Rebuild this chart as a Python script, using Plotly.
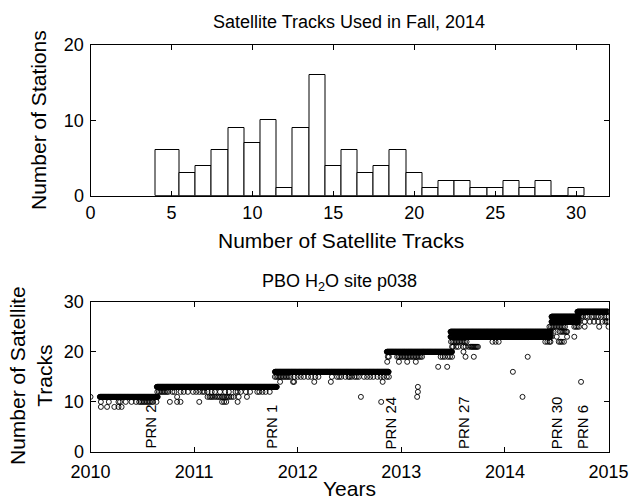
import numpy as np
import plotly.graph_objects as go

# ---- Fall 2014 histogram: stations per number of satellite tracks ----
tracks = list(range(5, 31))
stations = [6, 3, 4, 6, 9, 7, 10, 1, 9, 16, 4, 6, 3, 4, 6, 3, 1, 2, 2, 1, 1, 2, 1, 2, 0, 1]
FIRST_BIN_LEFT = 4.0  # the lowest bin is drawn starting at 4

# ---- PBO H2O site p038: daily number of satellite tracks ----
# steady levels (one value per day between start and end year)
run_start = [2010.09, 2010.64, 2011.78, 2012.86, 2013.475, 2013.475, 2014.45, 2014.45, 2014.70]
run_end = [2010.65, 2011.80, 2012.88, 2013.49, 2014.44, 2014.44, 2014.71, 2014.71, 2015.00]
run_value = [11, 13, 16, 20, 24, 23, 27, 26, 28]

# days that fall off the steady level
extra_value = [9, 10, 11, 12, 13, 14, 15, 16, 17, 18, 19, 20, 21, 22, 23, 24, 25, 26, 27]
extra_years = [
    [2010.10, 2010.16, 2010.23, 2010.27, 2010.30],
    [2010.10, 2010.177, 2010.27, 2010.285, 2010.34, 2010.396, 2010.44, 2010.47, 2010.485,
     2010.50, 2010.515, 2010.53, 2010.545, 2010.56, 2010.575, 2010.59, 2010.605, 2010.637,
     2010.766, 2010.836, 2010.869, 2011.05, 2011.27, 2011.29, 2011.31, 2011.42, 2012.806],
    [2010.00, 2010.836, 2011.13, 2011.15, 2011.165, 2011.18, 2011.20, 2011.22, 2011.235,
     2011.25, 2011.27, 2011.29, 2011.31, 2011.325, 2011.34, 2011.36, 2011.38, 2011.43,
     2011.51, 2012.61, 2013.153, 2014.17],
    [2010.645, 2010.66, 2010.675, 2010.69, 2010.705, 2010.72, 2010.735, 2010.75, 2010.79,
     2010.81, 2010.87, 2010.90, 2010.94, 2010.99, 2011.02, 2011.05, 2011.08, 2011.10,
     2011.13, 2011.17, 2011.20, 2011.25, 2011.30, 2011.335, 2011.40, 2011.42, 2011.45,
     2011.50, 2011.54, 2011.61, 2011.63, 2011.66, 2011.69, 2011.73, 2013.16],
    [2013.16],
    [2011.83, 2011.955, 2011.965, 2012.16, 2012.32, 2012.82, 2014.735],
    [2011.78, 2011.795, 2011.81, 2011.825, 2011.84, 2011.855, 2011.87, 2011.885, 2011.90,
     2011.915, 2011.93, 2011.97, 2012.00, 2012.03, 2012.06, 2012.10, 2012.13, 2012.17,
     2012.20, 2012.33, 2012.38, 2012.40, 2012.42, 2012.46, 2012.49, 2012.50, 2012.52,
     2012.55, 2012.57, 2012.59, 2012.64, 2012.67, 2012.70, 2012.73, 2012.77, 2012.80,
     2012.83, 2012.86, 2012.88],
    [2014.077],
    [2013.356, 2013.443],
    [2012.864, 2012.977, 2013.057, 2013.14],
    [2012.87, 2012.88, 2012.96, 2012.975, 2012.99, 2013.005, 2013.02, 2013.035, 2013.05,
     2013.065, 2013.08, 2013.095, 2013.11, 2013.125, 2013.14, 2013.155, 2013.17, 2013.185,
     2013.20, 2013.38, 2013.40, 2013.42, 2013.45, 2013.47, 2013.49, 2013.62, 2013.70, 2014.22],
    [2013.60],
    [2013.49, 2013.50, 2013.53, 2013.55, 2013.60, 2013.62, 2013.65, 2013.67, 2013.68,
     2013.69, 2013.70, 2013.71, 2013.72, 2013.73, 2013.74],
    [2013.48, 2013.495, 2013.51, 2013.525, 2013.54, 2013.555, 2013.57, 2013.585, 2013.60,
     2013.615, 2013.63, 2013.88, 2013.91, 2013.94, 2014.39, 2014.41, 2014.43, 2014.44,
     2014.52, 2014.535, 2014.55, 2014.57],
    [2014.45, 2014.50, 2014.60, 2014.67],
    [2014.45, 2014.47, 2014.53, 2014.545, 2014.56, 2014.575, 2014.59, 2014.60],
    [2014.43, 2014.445, 2014.46, 2014.475, 2014.49, 2014.505, 2014.52, 2014.535, 2014.55,
     2014.565, 2014.58, 2014.67, 2014.685, 2014.70, 2014.715, 2014.77, 2014.91, 2015.0],
    [2014.72, 2014.77, 2014.82, 2014.86, 2014.90, 2014.94, 2014.97, 2014.985, 2015.0],
    [2014.72, 2014.735, 2014.75, 2014.78, 2014.80, 2014.84, 2014.86, 2014.88, 2014.90,
     2014.93, 2014.96, 2014.98, 2015.0],
]

# satellites added to the tracking list
prn_year = [2010.57, 2011.74, 2012.90, 2013.60, 2014.50, 2014.745]
prn_label = ["PRN 2", "PRN 1", "PRN 24", "PRN 27", "PRN 30", "PRN 6"]

# ---------------------------------------------------------------------
FONT = "Liberation Sans, Arial, Helvetica, sans-serif"
W, H = 630, 500
XL, XR = 90.5 / W, 608.5 / W
TOP_DOM = [1 - 195.7 / H, 1 - 45 / H]
BOT_DOM = [1 - 452 / H, 1 - 301.7 / H]

# bin edges for the histogram bars
left = [t - 0.5 for t in tracks]
left[0] = FIRST_BIN_LEFT
right = [t + 0.5 for t in tracks]
centers = [(a + b) / 2 for a, b in zip(left, right)]
widths = [b - a for a, b in zip(left, right)]

# expand the daily series
days_x, days_y = [], []
for s, e, v in zip(run_start, run_end, run_value):
    d = np.arange(s, e + 1e-9, 1 / 365.25)
    days_x.extend(d.tolist())
    days_y.extend([v] * len(d))
for v, yrs in zip(extra_value, extra_years):
    days_x.extend(yrs)
    days_y.extend([v] * len(yrs))

fig = go.Figure()
fig.add_trace(go.Bar(
    x=centers, y=stations, width=widths,
    marker=dict(color="white", line=dict(color="black", width=1)),
    xaxis="x", yaxis="y", showlegend=False,
))
fig.add_trace(go.Scatter(
    x=days_x, y=days_y, mode="markers",
    marker=dict(symbol="circle-open", size=5, color="black", line=dict(width=0.9, color="black")),
    xaxis="x2", yaxis="y2", showlegend=False,
))

axis_style = dict(
    showline=True, linecolor="black", linewidth=1, mirror="ticks",
    ticks="inside", ticklen=5, tickwidth=1, tickcolor="black",
    showgrid=False, zeroline=False, automargin=False,
    tickfont=dict(family=FONT, size=18, color="black"),
)

fig.update_layout(
    template="none",
    width=W, height=H,
    margin=dict(l=0, r=0, t=0, b=0, pad=0),
    paper_bgcolor="white", plot_bgcolor="white",
    font=dict(family=FONT, color="black"),
    bargap=0,
    xaxis=dict(domain=[XL, XR], range=[0, 32], tickvals=[0, 5, 10, 15, 20, 25, 30],
               anchor="y", ticklabelstandoff=1, **axis_style),
    yaxis=dict(domain=TOP_DOM, range=[0, 20], tickvals=[0, 10, 20], anchor="x",
               ticklabelstandoff=2, **axis_style),
    xaxis2=dict(domain=[XL, XR], range=[2010, 2015], tickvals=[2010, 2011, 2012, 2013, 2014, 2015],
                ticktext=["2010", "2011", "2012", "2013", "2014", "2015"], anchor="y2",
                ticklabelstandoff=3, **axis_style),
    yaxis2=dict(domain=BOT_DOM, range=[0, 30], tickvals=[0, 10, 20, 30], anchor="x2",
                ticklabelstandoff=2, **axis_style),
)

annotations = [
    dict(text="Satellite Tracks Used in Fall, 2014", x=349 / W, y=1 - 22 / H, size=18),
    dict(text="Number of Satellite Tracks", x=341 / W, y=1 - 240 / H, size=21),
    dict(text="Number of Stations", x=38 / W, y=1 - 120 / H, size=21, angle=-90),
    dict(text="PBO H<sub>2</sub>O site p038", x=339 / W, y=1 - 282 / H, size=18),
    dict(text="Years", x=349 / W, y=1 - 488 / H, size=21),
    dict(text="Number of Satellite<br>Tracks", x=31 / W, y=1 - 376 / H, size=21, angle=-90),
]
for a in annotations:
    fig.add_annotation(
        text=a["text"], x=a["x"], y=a["y"], xref="paper", yref="paper",
        xanchor="center", yanchor="middle", showarrow=False, textangle=a.get("angle", 0),
        font=dict(family=FONT, size=a["size"], color="black"), borderpad=0,
    )

for yr, lab in zip(prn_year, prn_label):
    fig.add_annotation(
        text=lab, x=yr, y=0, xref="x2", yref="y2",
        xanchor="center", yanchor="bottom", showarrow=False, textangle=-90,
        font=dict(family=FONT, size=15, color="black"), borderpad=0, yshift=2,
    )

fig.write_html("out.html")
